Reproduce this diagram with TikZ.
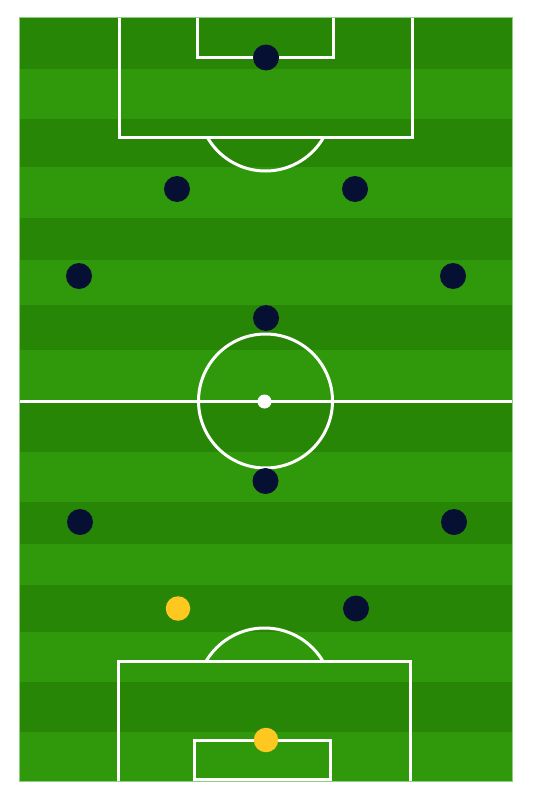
\documentclass[tikz,border=0pt]{standalone}
\usetikzlibrary{calc}
\definecolor{darkstripe}{HTML}{288607}
\definecolor{lightstripe}{HTML}{2F990B}
\definecolor{navy}{HTML}{061033}
\definecolor{gold}{HTML}{FFC820}
\definecolor{edge}{HTML}{8FCF7F}
\tikzset{
  pitchline/.style={draw=white, line width=3pt},
  navyplayer/.style={circle, fill=navy, inner sep=0pt, minimum size=26pt},
  goldplayer/.style={circle, fill=gold, inner sep=0pt, minimum size=24.5pt},
}
\begin{document}
\begin{tikzpicture}[x=1pt,y=-1pt]
\useasboundingbox (0,0) rectangle (533,800);
% stripes
\fill[darkstripe] (19.5,18) rectangle (512,781);
\foreach \a/\b in {69/119,167/218,260/305,350/401,452/502,544/585,632/682,732/781}
  \fill[lightstripe] (19.5,\a) rectangle (512,\b);
\draw[edge, line width=1pt] (19.5,18) rectangle (512,781);
% halfway line and centre circle
\draw[pitchline] (19.5,401) -- (512,401);
\draw[pitchline] (265.5,401) circle (67);
\fill[white] (264.5,401.5) circle (7);
% top penalty area
\draw[pitchline] (119,18) -- (119,137) -- (412,137) -- (412,18);
\draw[pitchline] (197.5,18) -- (197.5,57.5) -- (333.5,57.5) -- (333.5,18);
\begin{scope}
\clip (19.5,138) rectangle (512,250);
\draw[pitchline] (265.5,104) circle (67);
\end{scope}
% bottom penalty area
\draw[pitchline] (118,781) -- (118,661) -- (410,661) -- (410,781);
\draw[pitchline] (194.5,779.5) rectangle (330.5,740);
\begin{scope}
\clip (19.5,550) rectangle (512,660);
\draw[pitchline] (264.5,696) circle (68);
\end{scope}
% players
\node[navyplayer] (p1) at (266,57.5) {};
\node[navyplayer] (p2) at (177,189) {};
\node[navyplayer] (p3) at (355,189) {};
\node[navyplayer] (p4) at (79,276) {};
\node[navyplayer] (p5) at (453,276) {};
\node[navyplayer] (p6) at (266,318) {};
\node[navyplayer] (p7) at (265.5,481) {};
\node[navyplayer] (p8) at (80,522) {};
\node[navyplayer] (p9) at (454,522) {};
\node[goldplayer] (y1) at (178,608.5) {};
\node[navyplayer] (p10) at (356,608.5) {};
\node[goldplayer] (y2) at (266,740) {};
\end{tikzpicture}
\end{document}
